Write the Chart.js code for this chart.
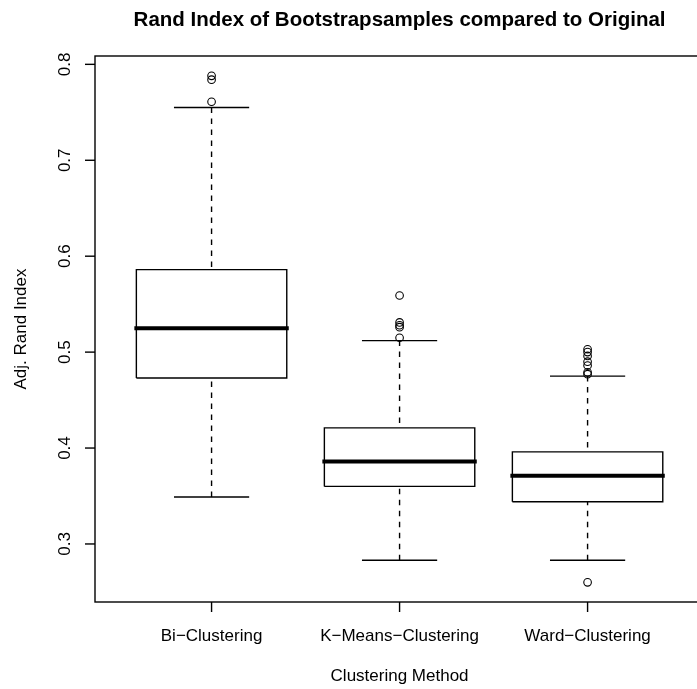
<!DOCTYPE html>
<html>
<head>
<meta charset="utf-8">
<title>Rand Index of Bootstrapsamples compared to Original</title>
<script src="https://cdn.jsdelivr.net/npm/chart.js@4/dist/chart.umd.min.js"></script>
<style>
  html, body { margin: 0; padding: 0; background: #ffffff; overflow: hidden; }
  #wrap { width: 697px; height: 689px; }
</style>
</head>
<body>
<div id="wrap"><canvas id="chart" width="697" height="689"></canvas></div>
<script>
// Box statistics per clustering method
const categories = ['Bi\u2212Clustering', 'K\u2212Means\u2212Clustering', 'Ward\u2212Clustering'];
const lowerWhisker = [0.349, 0.283, 0.283];
const lowerQuartile = [0.473, 0.360, 0.344];
const medians = [0.525, 0.386, 0.371];
const upperQuartile = [0.586, 0.421, 0.396];
const upperWhisker = [0.755, 0.512, 0.475];
const outliers = [
  [0.761, 0.784, 0.788],
  [0.515, 0.526, 0.528, 0.531, 0.559],
  [0.260, 0.477, 0.479, 0.486, 0.490, 0.496, 0.500, 0.503]
];
const yTickValues = [0.3, 0.4, 0.5, 0.6, 0.7, 0.8];
const yTickLabels = ['0.3', '0.4', '0.5', '0.6', '0.7', '0.8'];

const chartTitle = 'Rand Index of Bootstrapsamples compared to Original';
const xTitle = 'Clustering Method';
const yTitle = 'Adj. Rand Index';

const INK = '#000000';
const LINE_W = 1.4;
const BOX_HALF = 0.4;     // half box width in category units
const CAP_HALF = 0.2;     // half whisker-cap width
const X_MIN = 0.38, X_MAX = 3.582, X_FRAME_RIGHT = 3.62;
const Y_MIN = 0.2395, Y_MAX = 0.8087;

// Build the line/scatter datasets that make up each box-and-whisker glyph
const datasets = [];
const lineBase = {
  type: 'line', showLine: true, fill: false, pointRadius: 0, pointHoverRadius: 0,
  borderColor: INK, borderWidth: LINE_W, tension: 0, clip: false
};
categories.forEach((c, i) => {
  const x = i + 1;
  // dashed whiskers, drawn from the cap towards the box
  datasets.push(Object.assign({}, lineBase, {
    data: [{x: x, y: lowerWhisker[i]}, {x: x, y: lowerQuartile[i]}],
    borderDash: [5.5, 5.5], borderCapStyle: 'butt'
  }));
  datasets.push(Object.assign({}, lineBase, {
    data: [{x: x, y: upperWhisker[i]}, {x: x, y: upperQuartile[i]}],
    borderDash: [5.5, 5.5], borderCapStyle: 'butt'
  }));
  // whisker caps
  datasets.push(Object.assign({}, lineBase, {
    data: [{x: x - CAP_HALF, y: lowerWhisker[i]}, {x: x + CAP_HALF, y: lowerWhisker[i]}]
  }));
  datasets.push(Object.assign({}, lineBase, {
    data: [{x: x - CAP_HALF, y: upperWhisker[i]}, {x: x + CAP_HALF, y: upperWhisker[i]}]
  }));
  // box outline
  datasets.push(Object.assign({}, lineBase, {
    data: [
      {x: x - BOX_HALF, y: lowerQuartile[i]}, {x: x + BOX_HALF, y: lowerQuartile[i]},
      {x: x + BOX_HALF, y: upperQuartile[i]}, {x: x - BOX_HALF, y: upperQuartile[i]},
      {x: x - BOX_HALF, y: lowerQuartile[i]}
    ],
    borderJoinStyle: 'miter'
  }));
  // median
  datasets.push(Object.assign({}, lineBase, {
    data: [{x: x - BOX_HALF, y: medians[i]}, {x: x + BOX_HALF, y: medians[i]}],
    borderWidth: 4, borderCapStyle: 'square'
  }));
  // outlying points as open circles
  datasets.push({
    type: 'scatter',
    data: outliers[i].map(v => ({x: x, y: v})),
    pointStyle: 'circle', pointRadius: 3.8, pointHoverRadius: 3.8,
    pointBorderWidth: 1.1, pointBorderColor: INK,
    pointBackgroundColor: 'rgba(0,0,0,0)', showLine: false, clip: false
  });
});

// Frame, axes, tick labels and titles, positioned through the chart scales
const decorations = {
  id: 'decorations',
  afterDraw(chart) {
    const ctx = chart.ctx;
    const xs = chart.scales.x, ys = chart.scales.y;
    const ca = chart.chartArea;
    ctx.save();
    ctx.strokeStyle = INK;
    ctx.lineWidth = LINE_W;
    ctx.fillStyle = INK;

    // plot frame
    const right = xs.getPixelForValue(X_FRAME_RIGHT);
    ctx.strokeRect(ca.left, ca.top, right - ca.left, ca.bottom - ca.top);

    // y ticks and labels (rotated, parallel to the axis)
    ctx.font = '17px "Liberation Sans", Arial, Helvetica, sans-serif';
    yTickValues.forEach((v, k) => {
      const py = ys.getPixelForValue(v);
      ctx.beginPath();
      ctx.moveTo(ca.left, py);
      ctx.lineTo(ca.left - 10, py);
      ctx.stroke();
      ctx.save();
      ctx.translate(ca.left - 30, py);
      ctx.rotate(-Math.PI / 2);
      ctx.textAlign = 'center';
      ctx.textBaseline = 'middle';
      ctx.fillText(yTickLabels[k], 0, 0);
      ctx.restore();
    });

    // x ticks and category labels
    categories.forEach((c, i) => {
      const px = xs.getPixelForValue(i + 1);
      ctx.beginPath();
      ctx.moveTo(px, ca.bottom);
      ctx.lineTo(px, ca.bottom + 10);
      ctx.stroke();
      ctx.textAlign = 'center';
      ctx.textBaseline = 'middle';
      ctx.fillText(c, px, ca.bottom + 34);
    });

    // axis titles
    const centerX = xs.getPixelForValue(2);
    ctx.textAlign = 'center';
    ctx.textBaseline = 'middle';
    ctx.fillText(xTitle, centerX, ca.bottom + 74);
    ctx.save();
    ctx.translate(21, (ca.top + ca.bottom) / 2);
    ctx.rotate(-Math.PI / 2);
    ctx.fillText(yTitle, 0, 0);
    ctx.restore();

    // main title
    ctx.font = 'bold 20.5px "Liberation Sans", Arial, Helvetica, sans-serif';
    ctx.fillText(chartTitle, centerX, 20);
    ctx.restore();
  }
};

new Chart(document.getElementById('chart'), {
  type: 'scatter',
  data: { datasets: datasets },
  options: {
    responsive: false,
    devicePixelRatio: 1,
    animation: false,
    events: [],
    layout: { autoPadding: false, padding: { left: 95, right: 0, top: 56, bottom: 87 } },
    plugins: { legend: { display: false }, tooltip: { enabled: false }, title: { display: false } },
    scales: {
      x: { type: 'linear', min: X_MIN, max: X_MAX, display: false },
      y: { type: 'linear', min: Y_MIN, max: Y_MAX, display: false }
    }
  },
  plugins: [decorations]
});
</script>
</body>
</html>
